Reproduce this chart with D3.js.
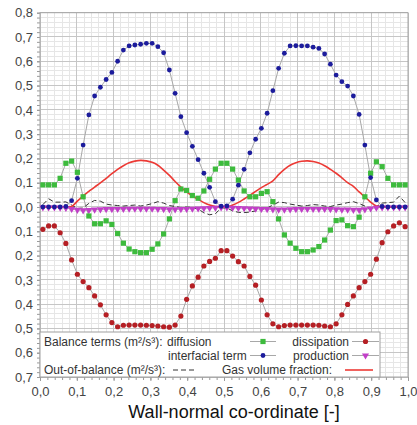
<!DOCTYPE html>
<html>
<head>
<meta charset="utf-8">
<script src="https://cdn.jsdelivr.net/npm/d3@7"></script>
<style>
  html, body { margin: 0; padding: 0; background: #fff; }
  svg { display: block; font-family: "Liberation Sans", Arial, sans-serif; }
</style>
</head>
<body>
<svg id="chart" width="417" height="425"></svg>
<script>
// Wall-normal profiles, 64 cell centres across the channel
const nCells = 64;
const positions = d3.range(nCells).map(i => (i + 0.5) / nCells);

const diffusion = [
  0.091, 0.091, 0.091, 0.118, 0.180, 0.189, 0.143, 0.042, -0.037, -0.069,
  -0.069, -0.057, -0.072, -0.109, -0.149, -0.173, -0.184, -0.188, -0.188, -0.174,
  -0.152, -0.111, -0.049, 0.026, 0.074, 0.068, 0.047, 0.036, 0.066, 0.114,
  0.156, 0.180, 0.180, 0.156, 0.111, 0.066, 0.042, 0.042, 0.056, 0.063,
  0.022, -0.049, -0.115, -0.149, -0.170, -0.184, -0.184, -0.177, -0.163, -0.136,
  -0.095, -0.056, -0.053, -0.077, -0.081, -0.042, 0.042, 0.139, 0.186, 0.166,
  0.118, 0.091, 0.091, 0.091
];

const interfacial = [
  0.000, 0.000, 0.000, 0.000, 0.002, 0.026, 0.118, 0.255, 0.379, 0.457,
  0.493, 0.525, 0.554, 0.600, 0.646, 0.663, 0.667, 0.670, 0.674, 0.674,
  0.660, 0.635, 0.564, 0.468, 0.372, 0.306, 0.250, 0.195, 0.139, 0.081,
  0.022, 0.003, 0.004, 0.032, 0.090, 0.155, 0.223, 0.279, 0.324, 0.386,
  0.479, 0.571, 0.633, 0.663, 0.664, 0.663, 0.663, 0.658, 0.653, 0.630,
  0.588, 0.543, 0.516, 0.498, 0.457, 0.381, 0.255, 0.121, 0.029, 0.002,
  0.000, 0.000, 0.000, 0.000
];

const dissipation = [
  -0.092, -0.078, -0.078, -0.106, -0.150, -0.218, -0.277, -0.307, -0.332, -0.366,
  -0.403, -0.444, -0.476, -0.493, -0.487, -0.486, -0.486, -0.486, -0.487, -0.488,
  -0.490, -0.493, -0.495, -0.486, -0.449, -0.380, -0.325, -0.289, -0.243, -0.224,
  -0.211, -0.180, -0.180, -0.202, -0.225, -0.243, -0.286, -0.322, -0.383, -0.444,
  -0.481, -0.493, -0.488, -0.486, -0.486, -0.486, -0.486, -0.486, -0.487, -0.490,
  -0.493, -0.481, -0.444, -0.401, -0.366, -0.332, -0.307, -0.277, -0.215, -0.147,
  -0.102, -0.078, -0.065, -0.081
];

const production = [
  -0.002, -0.002, -0.002, -0.003, -0.004, -0.008, -0.012, -0.014, -0.013, -0.011,
  -0.010, -0.009, -0.009, -0.008, -0.008, -0.007, -0.007, -0.007, -0.007, -0.007,
  -0.008, -0.009, -0.010, -0.010, -0.009, -0.008, -0.007, -0.006, -0.005, -0.004,
  -0.003, -0.002, -0.002, -0.003, -0.004, -0.005, -0.006, -0.007, -0.008, -0.009,
  -0.010, -0.011, -0.011, -0.010, -0.009, -0.008, -0.008, -0.008, -0.008, -0.008,
  -0.009, -0.010, -0.011, -0.011, -0.012, -0.012, -0.010, -0.006, -0.003, -0.002,
  -0.002, -0.002, -0.002, -0.002
];

const outOfBalance = [
  0.010, 0.034, 0.020, 0.020, 0.021, 0.008, -0.006, -0.004, 0.015, 0.027,
  0.024, 0.012, 0.008, 0.006, 0.004, 0.006, 0.008, 0.004, 0.008, 0.014,
  0.022, 0.016, 0.006, 0.002, -0.002, 0.000, -0.002, -0.008, -0.024, -0.032,
  -0.028, -0.004, -0.004, -0.016, -0.022, -0.023, -0.021, -0.016, -0.010, -0.004,
  0.008, 0.020, 0.018, 0.012, 0.008, 0.004, 0.006, 0.010, 0.008, 0.004,
  0.002, 0.008, 0.012, 0.018, 0.022, 0.014, 0.004, -0.010, 0.002, 0.016,
  0.018, 0.020, 0.045, 0.018
];

const gasFraction = [
  0.000, 0.000, 0.000, 0.000, 0.000, 0.002, 0.024, 0.046, 0.064, 0.082,
  0.099, 0.118, 0.137, 0.155, 0.170, 0.182, 0.189, 0.192, 0.190, 0.184,
  0.172, 0.152, 0.130, 0.105, 0.082, 0.062, 0.045, 0.032, 0.018, 0.008,
  0.002, 0.000, 0.000, 0.008, 0.019, 0.033, 0.048, 0.064, 0.080, 0.093,
  0.108, 0.133, 0.155, 0.172, 0.182, 0.188, 0.190, 0.187, 0.181, 0.170,
  0.155, 0.139, 0.120, 0.100, 0.085, 0.062, 0.042, 0.020, 0.004, 0.000,
  0.000, 0.000, 0.000, 0.000
];

const xTicks = [0, 0.1, 0.2, 0.3, 0.4, 0.5, 0.6, 0.7, 0.8, 0.9, 1.0];
const yTicks = [-0.7, -0.6, -0.5, -0.4, -0.3, -0.2, -0.1, 0, 0.1, 0.2, 0.3, 0.4, 0.5, 0.6, 0.7, 0.8];
const xMinor = d3.range(0, 51).map(i => i / 50);
const yMinor = d3.range(0, 76).map(i => -0.7 + i / 50);

const xTitle = "Wall-normal co-ordinate [-]";

// layout
const plot = { left: 40, right: 408, top: 12.7, bottom: 377 };
const x = d3.scaleLinear().domain([0, 1]).range([plot.left, plot.right]);
const y = d3.scaleLinear().domain([-0.7, 0.8]).range([plot.bottom, plot.top]);

const col = {
  diffusion: "#3dbb3d",
  interfacial: "#1c1c9c",
  dissipation: "#b51f24",
  production: "#c23fc8",
  gas: "#ec3a35",
  balance: "#333333",
  connector: "#a8a8a8"
};

const svg = d3.select("#chart");
const fmt = d => Math.abs(d).toFixed(1).replace(".", ",");

// grid
const grid = svg.append("g");
grid.selectAll("line.vmin").data(xMinor).join("line")
  .attr("x1", d => x(d)).attr("x2", d => x(d))
  .attr("y1", plot.top).attr("y2", plot.bottom)
  .attr("stroke", "#e6e6e6").attr("stroke-width", 1).attr("shape-rendering", "crispEdges");
grid.selectAll("line.hmin").data(yMinor).join("line")
  .attr("y1", d => y(d)).attr("y2", d => y(d))
  .attr("x1", plot.left).attr("x2", plot.right)
  .attr("stroke", "#e6e6e6").attr("stroke-width", 1).attr("shape-rendering", "crispEdges");
grid.selectAll("line.vmaj").data(xTicks).join("line")
  .attr("x1", d => x(d)).attr("x2", d => x(d))
  .attr("y1", plot.top).attr("y2", plot.bottom)
  .attr("stroke", "#c6c6c6").attr("stroke-width", 1).attr("shape-rendering", "crispEdges");
grid.selectAll("line.hmaj").data(yTicks).join("line")
  .attr("y1", d => y(d)).attr("y2", d => y(d))
  .attr("x1", plot.left).attr("x2", plot.right)
  .attr("stroke", "#c6c6c6").attr("stroke-width", 1).attr("shape-rendering", "crispEdges");

// axes
const axisStyle = g => {
  g.select(".domain").remove();
  g.selectAll(".tick line").attr("stroke", "#9a9a9a");
  g.selectAll(".tick text").attr("fill", "#444").attr("font-size", 13)
    .attr("font-family", "'Liberation Sans', Arial, sans-serif");
};
svg.append("g").attr("transform", `translate(0,${plot.bottom})`)
  .call(d3.axisBottom(x).tickValues(xMinor).tickSize(3).tickFormat(""))
  .call(axisStyle);
svg.append("g").attr("transform", `translate(${plot.left},0)`)
  .call(d3.axisLeft(y).tickValues(yMinor).tickSize(3).tickFormat(""))
  .call(axisStyle);
svg.append("g").attr("transform", `translate(0,${plot.bottom})`)
  .call(d3.axisBottom(x).tickValues(xTicks).tickSize(4).tickPadding(6).tickFormat(fmt))
  .call(axisStyle);
svg.append("g").attr("transform", `translate(${plot.left},0)`)
  .call(d3.axisLeft(y).tickValues(yTicks).tickSize(3).tickPadding(4).tickFormat(fmt))
  .call(axisStyle);

// plot frame
svg.append("rect")
  .attr("x", plot.left).attr("y", plot.top)
  .attr("width", plot.right - plot.left).attr("height", plot.bottom - plot.top)
  .attr("fill", "none").attr("stroke", "#a6a6a6").attr("stroke-width", 1);

const pts = vals => vals.map((v, i) => [positions[i], v]);
const line = d3.line().x(d => x(d[0])).y(d => y(d[1]));
const smooth = d3.line().x(d => x(d[0])).y(d => y(d[1])).curve(d3.curveCatmullRom);

// connector lines of the marker series
const layers = svg.append("g");
[diffusion, interfacial, dissipation, production].forEach(vals => {
  layers.append("path").attr("d", line(pts(vals)))
    .attr("fill", "none").attr("stroke", col.connector).attr("stroke-width", 1);
});

// out-of-balance
layers.append("path").attr("d", line(pts(outOfBalance)))
  .attr("fill", "none").attr("stroke", col.balance).attr("stroke-width", 1)
  .attr("stroke-dasharray", "5,3");

// gas volume fraction
layers.append("path").attr("d", smooth(pts(gasFraction)))
  .attr("fill", "none").attr("stroke", col.gas).attr("stroke-width", 1.6);

// markers
const triDown = d3.symbol().type(d3.symbolTriangle).size(22);
const drawMarkers = (vals, kind) => {
  const g = layers.append("g");
  const data = pts(vals);
  if (kind === "square") {
    g.selectAll("rect").data(data).join("rect")
      .attr("x", d => x(d[0]) - 2.6).attr("y", d => y(d[1]) - 2.6)
      .attr("width", 5.2).attr("height", 5.2).attr("fill", col.diffusion);
  } else if (kind === "tri") {
    g.selectAll("path").data(data).join("path")
      .attr("d", triDown)
      .attr("transform", d => `translate(${x(d[0])},${y(d[1])}) rotate(180)`)
      .attr("fill", col.production);
  } else {
    g.selectAll("circle").data(data).join("circle")
      .attr("cx", d => x(d[0])).attr("cy", d => y(d[1]))
      .attr("r", kind === "blue" ? 2.4 : 2.6)
      .attr("fill", kind === "blue" ? col.interfacial : col.dissipation);
  }
};
drawMarkers(production, "tri");
drawMarkers(diffusion, "square");
drawMarkers(interfacial, "blue");
drawMarkers(dissipation, "red");

// legend
const lg = svg.append("g").attr("font-size", 12).attr("fill", "#333");
lg.append("rect").attr("x", plot.left).attr("y", 332)
  .attr("width", 340).attr("height", plot.bottom - 332)
  .attr("fill", "#fff").attr("stroke", "#a0a0a0").attr("stroke-width", 1);

const txt = (s, tx, ty, anchor) => lg.append("text").attr("x", tx).attr("y", ty)
  .attr("text-anchor", anchor || "start").attr("fill", "#333").text(s);
const sampleLine = (x1, x2, yy, stroke, dash, w) => lg.append("line")
  .attr("x1", x1).attr("x2", x2).attr("y1", yy).attr("y2", yy)
  .attr("stroke", stroke).attr("stroke-width", w || 1).attr("stroke-dasharray", dash || null);

txt("Balance terms (m²/s³):", 44, 345.5);
txt("diffusion", 167, 345.5);
txt("interfacial term", 168, 359.5);
txt("dissipation", 349, 345.5, "end");
txt("production", 349, 359.5, "end");
txt("Out-of-balance (m²/s³):", 44, 374);
txt("Gas volume fraction:", 222, 374);

sampleLine(250, 276, 341.5, col.connector);
lg.append("rect").attr("x", 260.4).attr("y", 338.9).attr("width", 5.2).attr("height", 5.2).attr("fill", col.diffusion);
sampleLine(250, 276, 355.5, col.connector);
lg.append("circle").attr("cx", 263).attr("cy", 355.5).attr("r", 2.4).attr("fill", col.interfacial);
sampleLine(352, 379, 341.5, col.connector);
lg.append("circle").attr("cx", 365.5).attr("cy", 341.5).attr("r", 2.6).attr("fill", col.dissipation);
sampleLine(352, 379, 355.5, col.connector);
lg.append("path").attr("d", triDown)
  .attr("transform", "translate(365.5,355.5) rotate(180)").attr("fill", col.production);
sampleLine(173, 196, 370, col.balance, "5,3");
sampleLine(345, 373, 370, col.gas, null, 1.6);

// axis title
svg.append("text").attr("x", 234).attr("y", 418).attr("text-anchor", "middle")
  .attr("font-size", 18).attr("fill", "#111").text(xTitle);
</script>
</body>
</html>
